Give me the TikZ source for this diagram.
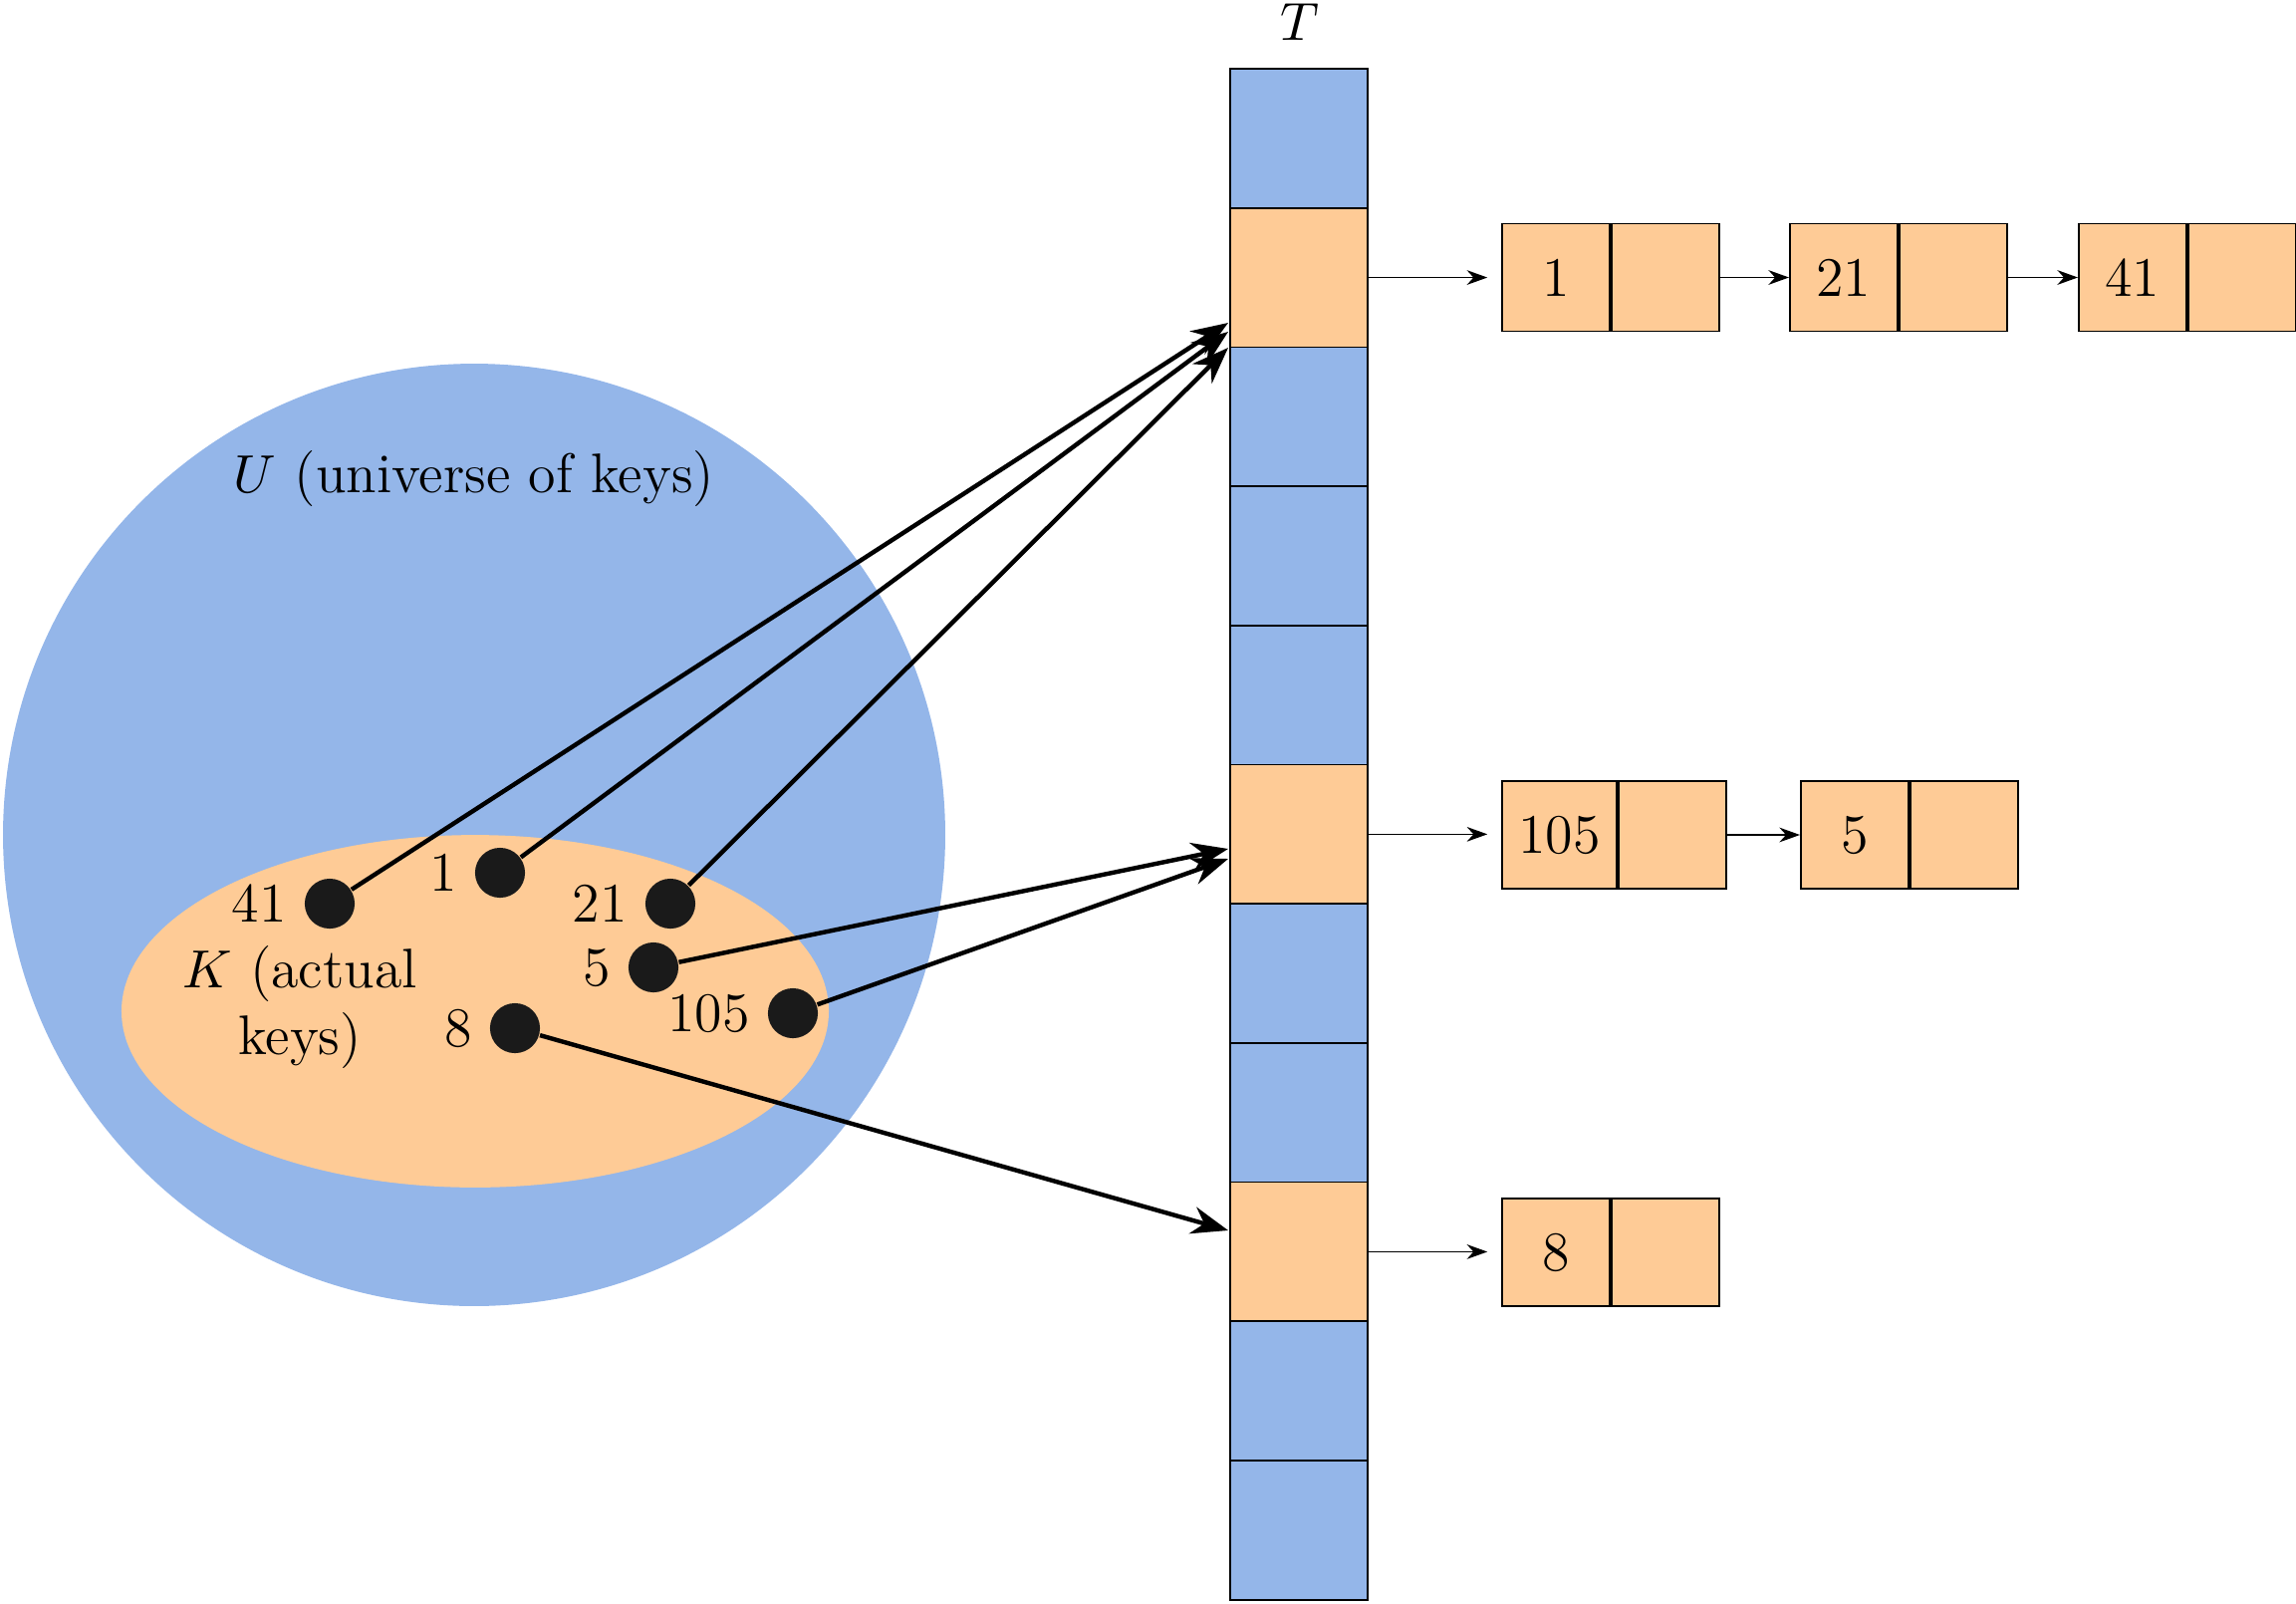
\documentclass[tikz,border=0pt]{standalone}
\usetikzlibrary{shapes.geometric,arrows.meta,calc}
\definecolor{ublue}{RGB}{148,182,233}
\definecolor{korange}{RGB}{254,203,150}
\definecolor{dotc}{RGB}{26,26,26}
\begin{document}
\begin{tikzpicture}[x=0.2035pt,y=-0.2035pt,font=\fontsize{11.4}{13.6}\selectfont,
  cellbox/.style={draw, line width=0.35pt, minimum width=28.1pt, minimum height=28.43pt, inner sep=0pt},
  lbox/.style={draw, fill=korange, line width=0.35pt, minimum width=22pt, minimum height=22pt, anchor=west},
  keydot/.style={circle, fill=dotc, minimum size=10.2pt, inner sep=0pt},
  keylab/.style={anchor=east},
  smallarrow/.style={line width=0.35pt, -{Stealth[length=4.2pt, width=3pt]}},
  bigarrow/.style={line width=0.9pt, -{Stealth[length=7.5pt, width=5.6pt]}}]
\useasboundingbox (0,0) rectangle (2305,1609);

% universe and key set
\node[circle, fill=ublue, minimum size=192.5pt, inner sep=0pt] (U) at (476,838) {};
\node[ellipse, fill=korange, minimum width=144.5pt, minimum height=72pt, inner sep=0pt] (K) at (477,1015) {};
\node (ut) at (476,481) {$U$ (universe of keys)};
\node[align=center] (kt) at (301,1011) {$K$ (actual\\keys)};

% table T
\node (T) at (1305,22) {$T$};
\foreach \i/\c in {0/ublue,1/korange,2/ublue,3/ublue,4/ublue,5/korange,6/ublue,7/ublue,8/korange,9/ublue,10/ublue}
  \node[cellbox, fill=\c] (c\i) at (1304,{69+139.7*(\i+0.5)}) {};

% keys
\node[keydot] (d41) at (331,907) {};
\node[keydot] (d1) at (502,876) {};
\node[keydot] (d21) at (673,907) {};
\node[keydot] (d5) at (656,971) {};
\node[keydot] (d105) at (796,1017) {};
\node[keydot] (d8) at (517,1032) {};
\node[keylab] (n41) at (d41.west) {41};
\node[keylab] (n1) at (d1.west) {1};
\node[keylab] (n21) at (d21.west) {21};
\node[keylab] (n5) at (d5.west) {5};
\node[keylab] (n105) at (d105.west) {105};
\node[keylab] (n8) at (d8.west) {8};

% hash arrows
\coordinate (t41) at (1233,324);
\coordinate (t1) at (1233,333);
\coordinate (t21) at (1233,349);
\coordinate (t5) at (1233,852);
\coordinate (t105) at (1233,862);
\coordinate (t8) at (1233,1235);
\draw[bigarrow] (d41) -- (t41);
\draw[bigarrow] (d1) -- (t1);
\draw[bigarrow] (d21) -- (t21);
\draw[bigarrow] (d5) -- (t5);
\draw[bigarrow] (d105) -- (t105);
\draw[bigarrow] (d8) -- (t8);

% chain of slot 1
\node[lbox] (ka) at (1507,278.5) {1};
\node[lbox] (pa) at (ka.east) {};
\node[lbox] (kb) at (1796,278.5) {21};
\node[lbox] (pb) at (kb.east) {};
\node[lbox] (kc) at (2086,278.5) {41};
\node[lbox] (pc) at (kc.east) {};
% chain of slot 5
\node[lbox] (kd) at (1507,838) {105};
\node[lbox] (pd) at (kd.east) {};
\node[lbox] (ke) at (1807,838) {5};
\node[lbox] (pe) at (ke.east) {};
% chain of slot 8
\node[lbox] (kf) at (1507,1257) {8};
\node[lbox] (pf) at (kf.east) {};

\draw[smallarrow, shorten >=2.8pt] (c1.east) -- (c1.east -| ka.west);
\draw[smallarrow] (pa.east) -- (kb.west);
\draw[smallarrow] (pb.east) -- (kc.west);
\draw[smallarrow, shorten >=2.8pt] (c5.east) -- (c5.east -| kd.west);
\draw[smallarrow] (pd.east) -- (ke.west);
\draw[smallarrow, shorten >=2.8pt] (c8.east) -- (c8.east -| kf.west);
\end{tikzpicture}
\end{document}
